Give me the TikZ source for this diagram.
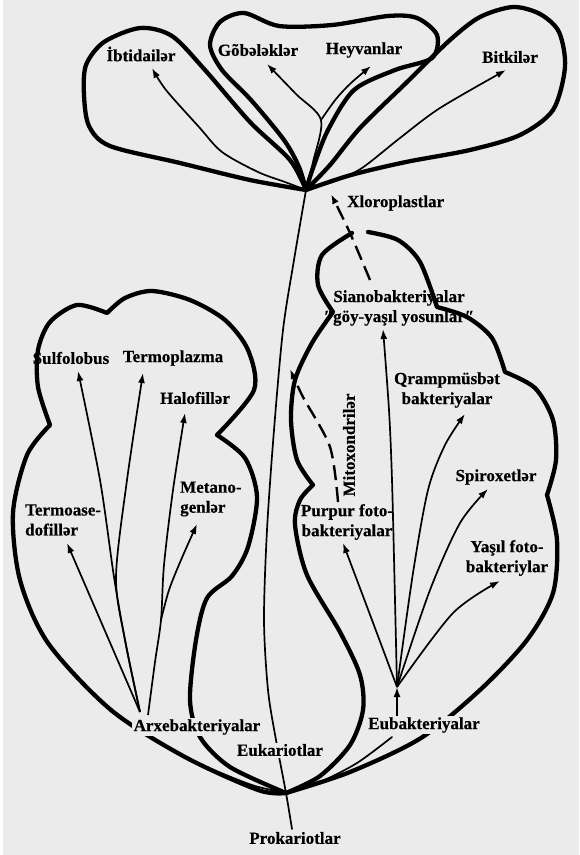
\documentclass[tikz,border=0pt]{standalone}
\usepackage{fontspec}
\setmainfont{Liberation Serif}[BoldFeatures={FakeBold=0.4}]
\usetikzlibrary{arrows.meta}
\definecolor{bg}{RGB}{235,235,235}
\begin{document}
\begin{tikzpicture}[x=1pt,y=-1pt,
  lobe/.style={line width=4.3pt, line join=round, line cap=round},
  thinline/.style={line width=1.7pt, line cap=round},
  arr/.style={line width=1.7pt, -{Latex[length=10pt,width=7pt]}},
  dasharr/.style={line width=2.4pt, dash pattern=on 15pt off 7pt, -{Latex[length=10pt,width=7pt]}},
  lbl/.style={font=\bfseries\fontsize{17}{20}\selectfont, inner sep=1pt, align=center},
  lbll/.style={lbl, align=left, anchor=west},
  cover/.style={fill=bg, inner sep=1.5pt}]
\useasboundingbox (0,0) rectangle (579,855);
\fill[bg] (0,0) rectangle (579,855);
\fill[white] (0,0) rectangle (3,855);

% junctions
\coordinate (J1) at (306,190);
\coordinate (J0) at (286,793);
\coordinate (J2) at (140,712);
\coordinate (J2b) at (148,715);
\coordinate (J3) at (397,687);
\coordinate (Bg) at (321,120);
\coordinate (Bh) at (161,620);

% ---------- top lobes ----------
\draw[lobe] plot[smooth] coordinates {(J1) (250,180) (180,163) (110,146) (89,126) (84,95) (86,65) (104,42) (140,28) (172,36) (205,70) (250,122) (290,160) (J1)};
\draw[lobe] plot[smooth] coordinates {(J1) (299,167) (284,140) (251,100) (222,70) (210,45) (220,22) (244,13) (279,26) (332,25) (388,16) (417,18) (437,35) (432,58) (395,70) (354,90) (328,130) (313,168) (J1)};
\draw[lobe] plot[smooth] coordinates {(J1) (330,165) (360,128) (406,83) (450,40) (480,17) (513,7) (540,14) (559,32) (565,67) (553,110) (520,135) (470,150) (406,162) (351,175) (J1)};

% ---------- archaea lobe ----------
\draw[lobe] plot[smooth] coordinates {(J0) (258,790) (185,757) (111,710) (48,643) (20,580) (13,513) (27,455) (50,425)}
  -- plot[smooth] coordinates {(50,425) (38,387) (38,350) (50,322) (77,305) (107,313)}
  -- plot[smooth] coordinates {(107,313) (125,298) (152,291) (190,300) (225,320) (248,350) (254,390) (217,435)}
  -- plot[smooth] coordinates {(217,435) (245,458) (257,497) (248,547) (232,576) (207,598) (196,640) (190,700) (200,737) (230,767) (J0)};

% ---------- eubacteria lobe ----------
\draw[lobe] plot[smooth] coordinates {(368,232) (398,240) (420,262) (437,307)}
  -- plot[smooth] coordinates {(437,307) (467,317) (492,338) (505,372)}
  -- plot[smooth] coordinates {(505,372) (535,388) (553,420) (556,460) (547,495)}
  -- plot[smooth] coordinates {(547,495) (557,540) (553,593) (527,640) (480,690) (421,738) (350,772) (J0)};
\draw[lobe] plot[smooth] coordinates {(J0) (320,776) (350,745) (363,710) (360,675) (340,632) (307,575) (295,525) (300,500) (313,485)}
  -- plot[smooth] coordinates {(313,485) (297,460) (291,420) (295,380) (312,343) (333,312)}
  -- plot[smooth] coordinates {(333,312) (318,285) (322,255) (352,233)};

% ---------- labels ----------
\node[lbl] (ibt) at (141,54) {İbtidailər};
\node[lbl] (gob) at (258,50) {Gõbələklər};
\node[lbl] (hey) at (364,50) {Heyvanlar};
\node[lbl] (bit) at (510,57) {Bitkilər};
\node[lbll] (xlo) at (346,203) {Xloroplastlar};
\node[lbl] (sia) at (399,308) {Sianobakteriyalar\\″göy-yaşıl yosunlar″};
\node[lbl] (qra) at (447,390) {Qrampmüsbət\\bakteriyalar};
\node[lbl] (spi) at (496,477) {Spiroxetlər};
\node[lbl] (pur) at (347,522) {Purpur foto-\\bakteriyalar};
\node[lbl] (yas) at (507,558) {Yaşıl foto-\\bakteriylar};
\node[lbl, rotate=90] (mit) at (349,445) {Mitoxondrilər};
\node[lbl] (sul) at (71,358) {Sulfolobus};
\node[lbl] (ter) at (173,358) {Termoplazma};
\node[lbl] (hal) at (195,398) {Halofillər};
\node[lbll] (met) at (179,499) {Metano-\\genlər};
\node[lbll] (tas) at (24,520) {Termoase-\\dofillər};

% ---------- thin root lines ----------
\draw[thinline] plot[smooth] coordinates {(292,829) (J0) (276,740) (268,690) (264,620) (267,530) (274,430) (283,330) (294,260) (J1)};
\draw[thinline] plot[smooth] coordinates {(157,742) (190,760) (221,773) (255,786) (J0)};
\draw[thinline] plot[smooth] coordinates {(392,737) (357,763) (320,782) (J0)};

% ---------- covered labels ----------
\node[lbl, cover] (arx) at (197,727) {Arxebakteriyalar};
\node[lbl, cover] (euk) at (280,750) {Eukariotlar};
\node[lbl, cover] (eub) at (424,725) {Eubakteriyalar};
\node[lbl] (pro) at (295,838) {Prokariotlar};

% ---------- arrow tips ----------
\coordinate (tIbt) at (152,68);
\coordinate (tGob) at (267,64);
\coordinate (tHey) at (371,66);
\coordinate (tBit) at (506,70);
\coordinate (tXlo) at (331,194);
\coordinate (tMit) at (290,369);
\coordinate (tSia) at (383,329);
\coordinate (tQra) at (465,414);
\coordinate (tSpi) at (488,489);
\coordinate (tPur) at (343,543);
\coordinate (tYas) at (500,581);
\coordinate (tSul) at (78,371);
\coordinate (tTer) at (143,373);
\coordinate (tHal) at (185,413);
\coordinate (tMet) at (197,524);
\coordinate (tTas) at (67,543);

% ---------- top arrows ----------
\draw[arr] plot[smooth] coordinates {(J1) (285,182) (258,172) (222,152) (199,127) (166,90) (tIbt)};
\draw[arr] plot[smooth] coordinates {(J1) (313,162) (Bg) (296,94) (tGob)};
\draw[arr] plot[smooth] coordinates {(Bg) (336,99) (351,83) (tHey)};
\draw[arr] plot[smooth] coordinates {(J1) (335,181) (362,168) (400,138) (440,108) (tBit)};

% ---------- archaea arrows ----------
\draw[arr] (J2) -- (tTas);
\draw[arr] plot[smooth] coordinates {(J2) (125,640) (114,577) (100,480) (tSul)};
\draw[arr] plot[smooth] coordinates {(J2) (125,640) (116,577) (127,480) (tTer)};
\draw[arr] plot[smooth] coordinates {(J2b) (155,662) (Bh) (164,565) (173,490) (tHal)};
\draw[arr] plot[smooth] coordinates {(Bh) (169,590) (181,560) (tMet)};

% ---------- eubacteria arrows ----------
\draw[arr] (eub.north -| J3) -- (J3);
\draw[arr] plot[smooth] coordinates {(J3) (372,620) (tPur)};
\draw[arr] plot[smooth] coordinates {(J3) (395,600) (392,480) (389,410) (tSia)};
\draw[arr] plot[smooth] coordinates {(J3) (413,573) (428,490) (445,445) (tQra)};
\draw[arr] plot[smooth] coordinates {(J3) (430,590) (460,523) (tSpi)};
\draw[arr] plot[smooth] coordinates {(J3) (453,613) (tYas)};

% ---------- dashed arrows ----------
\draw[dasharr] plot[smooth] coordinates {(370,280) (350,233) (tXlo)};
\draw[dasharr] plot[smooth] coordinates {(338,502) (330,447) (303,397) (tMit)};
\end{tikzpicture}
\end{document}
